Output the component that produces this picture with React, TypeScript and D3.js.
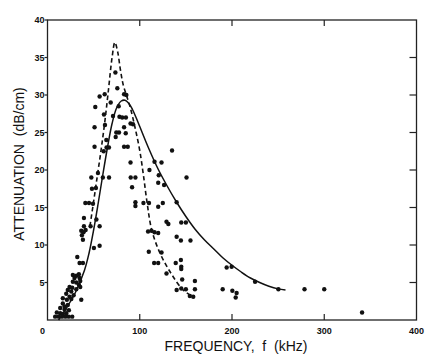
import React, { Component } from "react";
import * as d3 from "d3";

// measured points [frequency kHz, attenuation dB/cm]
const points: number[][] = [
  [73.6, 33.0], [75.7, 30.9], [56.5, 29.8], [62, 30.1], [51.8, 28.4], [83, 30.1], [85.5, 30.0],
  [68.5, 29.0], [61.2, 27.4], [71, 27.2], [77.2, 28.5], [78, 27.1], [81, 27.0], [85, 27.0],
  [51, 25.7], [62.3, 26], [74.6, 25.0], [77.5, 25.0], [73.9, 24.4], [83, 25.7], [84.8, 24.9],
  [90, 26.2], [92.7, 26.1], [51, 23.1], [63.8, 24], [64, 23.0], [66.6, 23.0], [60.9, 22.5],
  [83, 23.1], [87, 23.1], [135, 22.6], [90, 21], [116, 21.1], [123.6, 21.0], [110.5, 20],
  [120.6, 19.3], [47.5, 19.0], [54.7, 19.6], [60, 19.0], [66.7, 19.0], [90.2, 19.0], [95.3, 19.0],
  [150.7, 19.0], [48.2, 17.5], [52.5, 17.6], [91.7, 17.7], [120, 18.3], [126.4, 18.0],
  [41, 15.6], [45, 15.6], [49.3, 15.5], [95.3, 15.7], [95.3, 15.2], [104, 15.6], [110, 15.6],
  [120, 15.1], [125, 15.6], [140, 15.7], [39.5, 13.6], [53, 13.4], [36.6, 11.9], [39, 11.7],
  [41.3, 12.0], [37.3, 11.3], [38.4, 10.7], [39.5, 12.5], [46.7, 12.5], [56.5, 12.5],
  [50.3, 9.6], [56.5, 9.9], [32.3, 8.4], [109, 11.8], [112.7, 11.9], [116, 11.7], [120, 11.6],
  [109.8, 9.1], [123.6, 9.0], [115.6, 7.6], [120, 7.6], [129, 13.1], [131, 12.8], [140, 11.1],
  [144.6, 10.6], [155, 10.6], [145, 13.0], [150, 13.0], [129, 6.2], [139, 7.6], [144.6, 8.0],
  [145, 7.1], [145, 6.8], [146, 5.4], [140, 4.0], [145, 4.2], [150, 4.1], [159.8, 5.2],
  [159.8, 4.1], [154.3, 3.2], [158, 3.1],
  [34.8, 7.6], [38.4, 7.6], [27.5, 6.0], [31.2, 5.9], [34, 6.1], [29.3, 5.6], [34.8, 5.6],
  [27.5, 5.1], [31.2, 5.0], [35.5, 5.2], [34, 4.7], [35.5, 4.4], [23.9, 4.4], [26.8, 4.3],
  [22, 4.0], [25.8, 3.8], [31.2, 4.1], [20.3, 3.5], [23.9, 3.1], [28.3, 3.3], [16.6, 2.9],
  [21, 2.7], [25.8, 2.8], [36.6, 2.7], [16.6, 2.2], [22, 2.0], [18.5, 1.8], [13.8, 1.6],
  [18.5, 1.4], [23.2, 1.3], [10.1, 1.0], [13.8, 0.9], [16.6, 0.8], [20.3, 0.9], [8.3, 0.45],
  [12, 0.45], [15.7, 0.45], [19.4, 0.45], [23, 0.45], [26.8, 0.45],
  [194.2, 7.0], [199.6, 7.1], [225, 5.1], [250.3, 4.1], [278.6, 4.1], [300, 4.1], [189.9, 4.1],
  [200.4, 3.9], [205, 3.6], [204, 3.0], [341, 1.0],
];

// solid fitted curve
const solidF = [12, 20, 30, 40, 45, 50, 55, 60, 65, 70, 75, 80, 84, 88, 92, 96, 100, 110, 120, 130,
  140, 150, 160, 170, 180, 190, 200, 210, 220, 230, 240, 250, 258];
const solidA = [0, 1.5, 3.6, 6.6, 8.9, 12, 15.6, 19.4, 23, 26.2, 28.3, 29.2, 29.3, 28.9, 28.1, 27.0,
  25.8, 22.8, 20.1, 17.8, 15.7, 13.8, 12.1, 10.7, 9.5, 8.3, 7.3, 6.4, 5.6, 5.0, 4.5, 4.15, 4.0];

// dashed fitted curve
const dashedF = [46, 50, 54, 58, 62, 66, 70, 73, 76, 79, 82, 86, 90, 95, 100, 104, 108, 113, 122, 134, 147, 158];
const dashedA = [12.5, 15.8, 19.2, 22.6, 26.3, 30.6, 35.0, 37.0, 35.8, 33.4, 31.4, 29.8, 28.2, 25.6, 22.6,
  19.3, 15.6, 12.0, 8.9, 6.2, 4.0, 3.1];

const xTicks = [0, 100, 200, 300, 400];
const yTicks = [5, 10, 15, 20, 25, 30, 35, 40];
const rightTicks = [5, 10, 15, 20, 25, 30, 35];
const innerXTicks = [100, 200, 300];

class App extends Component {
  body: React.RefObject<HTMLDivElement | null>;
  width: number;
  height: number;

  constructor(props: any) {
    super(props);
    this.body = React.createRef();
    this.width = 439;
    this.height = 362;
  }

  componentDidMount() {
    const font = "'Liberation Sans', Arial, Helvetica, sans-serif";
    const x = d3.scaleLinear().domain([0, 400]).range([47.5, 416.5]);
    const y = d3.scaleLinear().domain([0, 40]).range([320, 20]);

    d3.select(this.body.current).selectAll("*").remove();
    const svg = d3
      .select(this.body.current)
      .append("svg")
      .attr("width", this.width)
      .attr("height", this.height)
      .style("position", "absolute")
      .style("left", "0px")
      .style("top", "0px")
      .style("background", "#fff");

    // frame
    svg
      .append("rect")
      .attr("x", x(0))
      .attr("y", y(40))
      .attr("width", x(400) - x(0))
      .attr("height", y(0) - y(40))
      .attr("fill", "none")
      .attr("stroke", "#222")
      .attr("stroke-width", 1.3);

    // left ticks (outward) and labels
    svg
      .selectAll("line.ytick")
      .data(yTicks)
      .enter()
      .append("line")
      .attr("class", "ytick")
      .attr("x1", x(0) - 3)
      .attr("x2", x(0))
      .attr("y1", d => y(d))
      .attr("y2", d => y(d))
      .attr("stroke", "#222")
      .attr("stroke-width", 1.2);

    svg
      .selectAll("text.ylab")
      .data(yTicks)
      .enter()
      .append("text")
      .attr("class", "ylab")
      .attr("x", x(0) - 3)
      .attr("y", d => y(d) + 3.2)
      .attr("text-anchor", "end")
      .style("font-family", font)
      .style("font-size", "9px")
      .style("font-weight", "bold")
      .attr("fill", "#111")
      .text(d => d);

    // right inward ticks
    svg
      .selectAll("line.rtick")
      .data(rightTicks)
      .enter()
      .append("line")
      .attr("class", "rtick")
      .attr("x1", x(400) - 7)
      .attr("x2", x(400))
      .attr("y1", d => y(d))
      .attr("y2", d => y(d))
      .attr("stroke", "#222")
      .attr("stroke-width", 1.2);

    // top and bottom inward ticks
    innerXTicks.forEach(t => {
      svg.append("line")
        .attr("x1", x(t)).attr("x2", x(t))
        .attr("y1", y(40)).attr("y2", y(40) + 6)
        .attr("stroke", "#222").attr("stroke-width", 1.2);
      svg.append("line")
        .attr("x1", x(t)).attr("x2", x(t))
        .attr("y1", y(0)).attr("y2", y(0) - 6)
        .attr("stroke", "#222").attr("stroke-width", 1.2);
    });

    svg
      .selectAll("text.xlab")
      .data(xTicks)
      .enter()
      .append("text")
      .attr("class", "xlab")
      .attr("x", d => (d === 0 ? x(d) - 5 : x(d)))
      .attr("y", 334)
      .attr("text-anchor", "middle")
      .style("font-family", font)
      .style("font-size", "9px")
      .style("font-weight", "bold")
      .attr("fill", "#111")
      .text(d => d);

    // axis titles
    svg
      .append("text")
      .attr("x", 236)
      .attr("y", 351)
      .attr("text-anchor", "middle")
      .style("font-family", font)
      .style("font-size", "14px")
      .style("white-space", "pre")
      .attr("fill", "#111")
      .text("FREQUENCY,  f  (kHz)");

    svg
      .append("text")
      .attr("transform", "translate(24,164) rotate(-90)")
      .attr("text-anchor", "middle")
      .style("font-family", font)
      .style("font-size", "14px")
      .style("white-space", "pre")
      .attr("fill", "#111")
      .text("ATTENUATION  (dB/cm)");

    // curves
    const solid = solidF.map((f, i) => [f, solidA[i]]);
    const dashed = dashedF.map((f, i) => [f, dashedA[i]]);
    const line = d3
      .line<number[]>()
      .x(d => x(d[0]))
      .y(d => y(d[1]))
      .curve(d3.curveCatmullRom);

    svg
      .append("path")
      .attr("d", line(solid))
      .attr("fill", "none")
      .attr("stroke", "#111")
      .attr("stroke-width", 1.5);

    svg
      .append("path")
      .attr("d", line(dashed))
      .attr("fill", "none")
      .attr("stroke", "#111")
      .attr("stroke-width", 1.6)
      .attr("stroke-dasharray", "4.5,3");

    // dots
    svg
      .selectAll("circle.pt")
      .data(points)
      .enter()
      .append("circle")
      .attr("class", "pt")
      .attr("cx", d => x(d[0]))
      .attr("cy", d => y(d[1]))
      .attr("r", 2.2)
      .attr("fill", "#111");
  }

  render() {
    return <div ref={this.body} />;
  }
}

export default App;
